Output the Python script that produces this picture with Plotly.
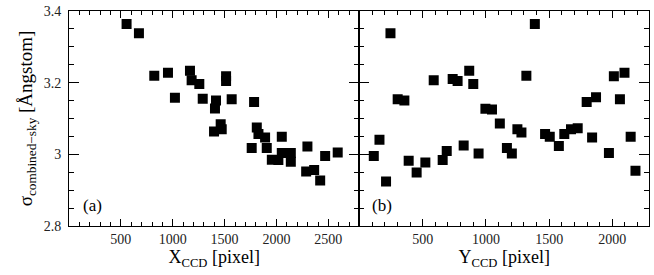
import plotly.graph_objects as go

# Panel (a): sigma vs X_CCD
xccd = [555, 674, 822, 954, 1021, 1166, 1182, 1256, 1514, 1514, 1289, 1417, 1407,
        1568, 1784, 1462, 1398, 1472, 1810, 1826, 1890, 1761, 1906, 2051, 1955,
        2018, 2051, 2138, 2138, 2298, 2286, 2363, 2421, 2469, 2590]
sig_a = [3.364, 3.338, 3.219, 3.228, 3.158, 3.233, 3.207, 3.196, 3.218, 3.205,
         3.155, 3.150, 3.128, 3.154, 3.146, 3.084, 3.064, 3.070, 3.075, 3.057,
         3.047, 3.018, 3.018, 3.049, 2.985, 2.984, 3.004, 3.004, 2.979, 3.022,
         2.952, 2.956, 2.927, 2.995, 3.005]

# Panel (b): sigma vs Y_CCD
yccd = [113, 158, 210, 245, 302, 355, 389, 452, 521, 587, 658, 690, 737, 776, 824,
        868, 900, 942, 996, 1048, 1110, 1166, 1205, 1249, 1281, 1320, 1387, 1468,
        1505, 1577, 1620, 1673, 1726, 1797, 1840, 1871, 1973, 2012, 2060, 2096,
        2145, 2183]
sig_b = [2.995, 3.041, 2.924, 3.338, 3.154, 3.150, 2.982, 2.949, 2.977, 3.207,
         2.984, 3.009, 3.210, 3.205, 3.025, 3.233, 3.196, 3.002, 3.127, 3.125,
         3.086, 3.018, 3.002, 3.070, 3.061, 3.219, 3.364, 3.057, 3.049, 3.023,
         3.057, 3.070, 3.073, 3.146, 3.047, 3.159, 3.004, 3.218, 3.154, 3.228,
         3.049, 2.954]

xa_ticks = [500, 1000, 1500, 2000, 2500]
xb_ticks = [500, 1000, 1500, 2000]
y_ticks = [2.8, 3.0, 3.2, 3.4]
y_ticktext = ["2.8", "3", "3.2", "3.4"]

FONT = "Liberation Serif"
split = 291 / 581

fig = go.Figure()
mk = dict(symbol="square", size=10, color="black", line=dict(width=0))
fig.add_trace(go.Scatter(x=xccd, y=sig_a, mode="markers", marker=mk,
                         xaxis="x", yaxis="y", showlegend=False))
fig.add_trace(go.Scatter(x=yccd, y=sig_b, mode="markers", marker=mk,
                         xaxis="x2", yaxis="y2", showlegend=False))

common_x = dict(showgrid=False, zeroline=False, showline=True, linecolor="black",
                linewidth=1, mirror="ticks", ticks="inside", ticklen=7,
                tickcolor="black", tickwidth=1, ticklabelstandoff=0,
                minor=dict(dtick=100, ticks="inside", ticklen=4, tickcolor="black"),
                tickfont=dict(family=FONT, size=14, color="#222"),
                title_font=dict(family=FONT, size=18, color="black"),
                title_standoff=0)
common_y = dict(showgrid=False, zeroline=False, showline=True, linecolor="black",
                linewidth=1, mirror="ticks", ticks="inside", ticklen=10,
                tickcolor="black", tickwidth=1, range=[2.8, 3.4],
                tickvals=y_ticks, ticktext=y_ticktext,
                minor=dict(dtick=0.05, ticks="inside", ticklen=5, tickcolor="black"),
                tickfont=dict(family=FONT, size=14, color="#222"))

fig.update_layout(
    width=654, height=275,
    margin=dict(l=69, r=4, t=8, b=49),
    plot_bgcolor="white", paper_bgcolor="white",
    xaxis=dict(domain=[0, split], range=[0, 2800], tickvals=xa_ticks,
               title_text="X<sub>CCD</sub> [pixel]", anchor="y", **common_x),
    xaxis2=dict(domain=[split, 1], range=[0, 2290], tickvals=xb_ticks,
                title_text="Y<sub>CCD</sub> [pixel]", anchor="y2", **common_x),
    yaxis=dict(domain=[0, 1], anchor="x", ticklabelstandoff=4,
               title_text="σ<sub>combined−sky</sub> [Ångstom]",
               title_font=dict(family=FONT, size=19, color="black"),
               title_standoff=6, **common_y),
    yaxis2=dict(domain=[0, 1], anchor="x2", matches="y", showticklabels=False,
                **common_y),
    annotations=[
        dict(text="(a)", xref="x domain", yref="y domain", x=0.04, y=0.095,
             xanchor="left", yanchor="middle", showarrow=False,
             font=dict(family=FONT, size=17, color="black")),
        dict(text="(b)", xref="x2 domain", yref="y2 domain", x=0.035, y=0.095,
             xanchor="left", yanchor="middle", showarrow=False,
             font=dict(family=FONT, size=17, color="black")),
    ],
)

fig.write_html("out.html", config={"displayModeBar": False},
               post_script="document.body.style.margin='0';document.body.style.padding='0';")
